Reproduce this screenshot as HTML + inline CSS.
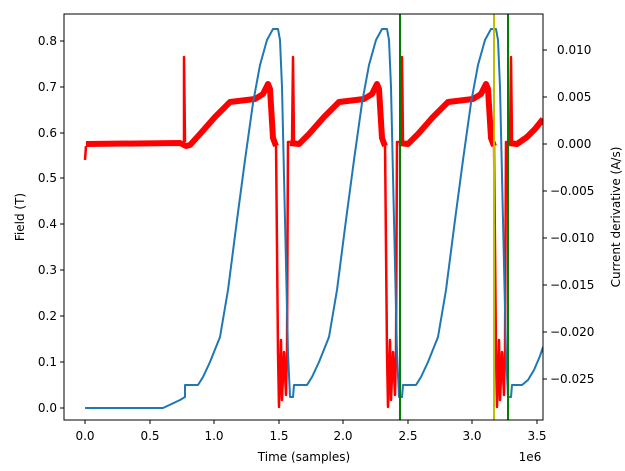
<!DOCTYPE html>
<html><head><meta charset="utf-8"><style>
html,body{margin:0;padding:0;background:#fff;}
svg{display:block;font-family:"DejaVu Sans","Liberation Sans",sans-serif;font-size:12px;}
</style></head><body>
<svg width="625" height="471" viewBox="0 0 625 471" xmlns="http://www.w3.org/2000/svg">
<rect width="625" height="471" fill="#fff"/>
<defs><clipPath id="c"><rect x="64" y="14" width="479" height="406"/></clipPath></defs>
<g clip-path="url(#c)">
<g fill="none" stroke="#ff0000" stroke-linejoin="round">
<polyline stroke-width="6" points="86,144 180,143 186,146 190,145 200,134 215,117 230,102 255,99 263,94 268,84 270,89 273,138 276,146"/>
<polyline stroke-width="6" points="290,143 299,144 309,134 324,117 339,102 364,99 372,94 377,84 379,89 382,138 385,146"/>
<polyline stroke-width="6" points="399,143 408,144 418,134 433,117 448,102 473,99 481,94 486,84 488,89 491,138 494,146"/>
<polyline stroke-width="6" points="508,143 517,144 527,137 535,129 543,119"/>
<polyline stroke-width="2.5" points="85,160 86,146"/>
<polyline stroke-width="2.5" points="184,142 184,57 185,142"/>
<polyline stroke-width="2.5" points="276,142 278,353 279,407 281,340 282,400 284,352 286,395 287,350 288,142 290,142"/>
<polyline stroke-width="2.5" points="292,142 293,57 294,142"/>
<polyline stroke-width="2.5" points="385,142 387,353 388,407 390,340 391,400 393,352 395,395 396,350 397,142 399,142"/>
<polyline stroke-width="2.5" points="401,142 402,57 403,142"/>
<polyline stroke-width="2.5" points="494,142 496,353 497,407 499,340 500,400 502,352 504,395 505,350 506,142 508,142"/>
<polyline stroke-width="2.5" points="510,142 511,57 512,142"/>
</g>
<polyline fill="none" stroke="#1f77b4" stroke-width="2" stroke-linejoin="round" points="85,408 163,408 180,400 185,397 185,385 198,385 203,377 210,362 220,337 228,290 237,220 245,160 253,103 260,65 267,40 273,29 278,29 280,40 282,87 285,220 288,353 290,397 293,397 294,385 307,385 312,377 319,362 329,337 337,290 346,220 354,160 362,103 369,65 376,40 382,29 387,29 389,40 391,87 394,220 397,353 399,397 402,397 403,385 416,385 421,377 428,362 438,337 446,290 455,220 463,160 471,103 478,65 485,40 491,29 496,29 498,40 500,87 503,220 506,353 508,397 511,397 512,385 522,385 528,380 534,370 540,356 543,347"/>
<line x1="400" y1="14" x2="400" y2="420" stroke="#008000" stroke-width="2"/>
<line x1="508" y1="14" x2="508" y2="420" stroke="#008000" stroke-width="2"/>
<line x1="494" y1="14" x2="494" y2="420" stroke="#bfbf00" stroke-width="2"/>
</g>
<rect x="64" y="14" width="479" height="406" fill="none" stroke="#000" stroke-width="1"/>
<g stroke="#000" stroke-width="1">
<line x1="85" y1="420" x2="85" y2="424"/><line x1="150" y1="420" x2="150" y2="424"/><line x1="214" y1="420" x2="214" y2="424"/><line x1="279" y1="420" x2="279" y2="424"/><line x1="343" y1="420" x2="343" y2="424"/><line x1="408" y1="420" x2="408" y2="424"/><line x1="472" y1="420" x2="472" y2="424"/><line x1="537" y1="420" x2="537" y2="424"/>
<line x1="60" y1="408" x2="64" y2="408"/><line x1="60" y1="362" x2="64" y2="362"/><line x1="60" y1="316" x2="64" y2="316"/><line x1="60" y1="270" x2="64" y2="270"/><line x1="60" y1="224" x2="64" y2="224"/><line x1="60" y1="178" x2="64" y2="178"/><line x1="60" y1="133" x2="64" y2="133"/><line x1="60" y1="87" x2="64" y2="87"/><line x1="60" y1="41" x2="64" y2="41"/>
<line x1="543" y1="50" x2="547" y2="50"/><line x1="543" y1="97" x2="547" y2="97"/><line x1="543" y1="144" x2="547" y2="144"/><line x1="543" y1="191" x2="547" y2="191"/><line x1="543" y1="238" x2="547" y2="238"/><line x1="543" y1="285" x2="547" y2="285"/><line x1="543" y1="332" x2="547" y2="332"/><line x1="543" y1="379" x2="547" y2="379"/>
</g>
<g text-anchor="middle" fill="#000">
<text x="85" y="440">0.0</text><text x="150" y="440">0.5</text><text x="214" y="440">1.0</text><text x="279" y="440">1.5</text><text x="343" y="440">2.0</text><text x="408" y="440">2.5</text><text x="472" y="440">3.0</text><text x="537" y="440">3.5</text>
<text x="304" y="461">Time (samples)</text>
<text x="530" y="461">1e6</text>
</g>
<g text-anchor="end" fill="#000">
<text x="57" y="412">0.0</text><text x="57" y="366">0.1</text><text x="57" y="320">0.2</text><text x="57" y="274">0.3</text><text x="57" y="228">0.4</text><text x="57" y="182">0.5</text><text x="57" y="137">0.6</text><text x="57" y="91">0.7</text><text x="57" y="45">0.8</text>
</g>
<g fill="#000">
<text x="557" y="54">0.010</text><text x="557" y="101">0.005</text><text x="557" y="148">0.000</text><text x="550" y="195">−0.005</text><text x="550" y="242">−0.010</text><text x="550" y="289">−0.015</text><text x="550" y="336">−0.020</text><text x="550" y="383">−0.025</text>
</g>
<text transform="translate(24,217) rotate(-90)" text-anchor="middle">Field (T)</text>
<text transform="translate(620,217) rotate(-90)" text-anchor="middle">Current derivative (A/s)</text>
</svg>
</body></html>
